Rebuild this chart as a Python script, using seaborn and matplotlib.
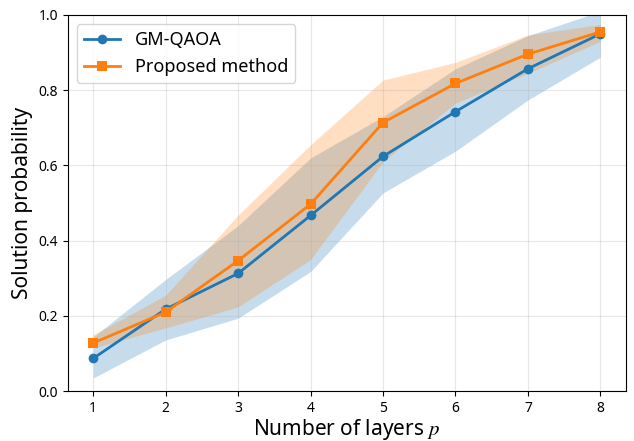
import numpy as np
import pandas as pd
import matplotlib
matplotlib.use("Agg")
import matplotlib.pyplot as plt
import seaborn as sns

# datos
capas = [1, 2, 3, 4, 5, 6, 7, 8]
gm_media = [0.087, 0.218, 0.313, 0.467, 0.624, 0.743, 0.857, 0.950]
gm_inf = [0.035, 0.136, 0.194, 0.318, 0.527, 0.638, 0.774, 0.888]
gm_sup = [0.144, 0.297, 0.440, 0.620, 0.730, 0.857, 0.945, 1.010]
prop_media = [0.128, 0.210, 0.347, 0.497, 0.714, 0.818, 0.896, 0.955]
prop_inf = [0.115, 0.168, 0.224, 0.350, 0.610, 0.766, 0.845, 0.930]
prop_sup = [0.150, 0.255, 0.468, 0.655, 0.827, 0.874, 0.947, 0.975]

plt.rcParams['font.family'] = ['Noto Sans', 'DejaVu Sans']
plt.rcParams['mathtext.fontset'] = 'stix'

fig = plt.figure(figsize=(6.34, 4.41), dpi=100)
ax = fig.add_axes([0.107, 0.113, 0.88, 0.853])

azul = '#1f77b4'
naranja = '#ff7f0e'

ax.fill_between(capas, gm_inf, gm_sup, color=azul, alpha=0.25, linewidth=0)
ax.fill_between(capas, prop_inf, prop_sup, color=naranja, alpha=0.25, linewidth=0)

sns.lineplot(x=capas, y=gm_media, ax=ax, color=azul, marker='o', markersize=7,
             markeredgewidth=0, linewidth=2, label='GM-QAOA')
sns.lineplot(x=capas, y=prop_media, ax=ax, color=naranja, marker='s', markersize=7,
             markeredgewidth=0, linewidth=2, label='Proposed method')

ax.set_ylim(0, 1.0)
ax.set_xticks(capas)
ax.set_yticks([0.0, 0.2, 0.4, 0.6, 0.8, 1.0])
ax.tick_params(labelsize=10)
ax.grid(True, alpha=0.3)
ax.set_xlabel('Number of layers $p$', fontsize=15, labelpad=1)
ax.set_ylabel('Solution probability', fontsize=15)
ax.legend(loc='upper left', fontsize=13)

fig.savefig('out.png', dpi=100)
